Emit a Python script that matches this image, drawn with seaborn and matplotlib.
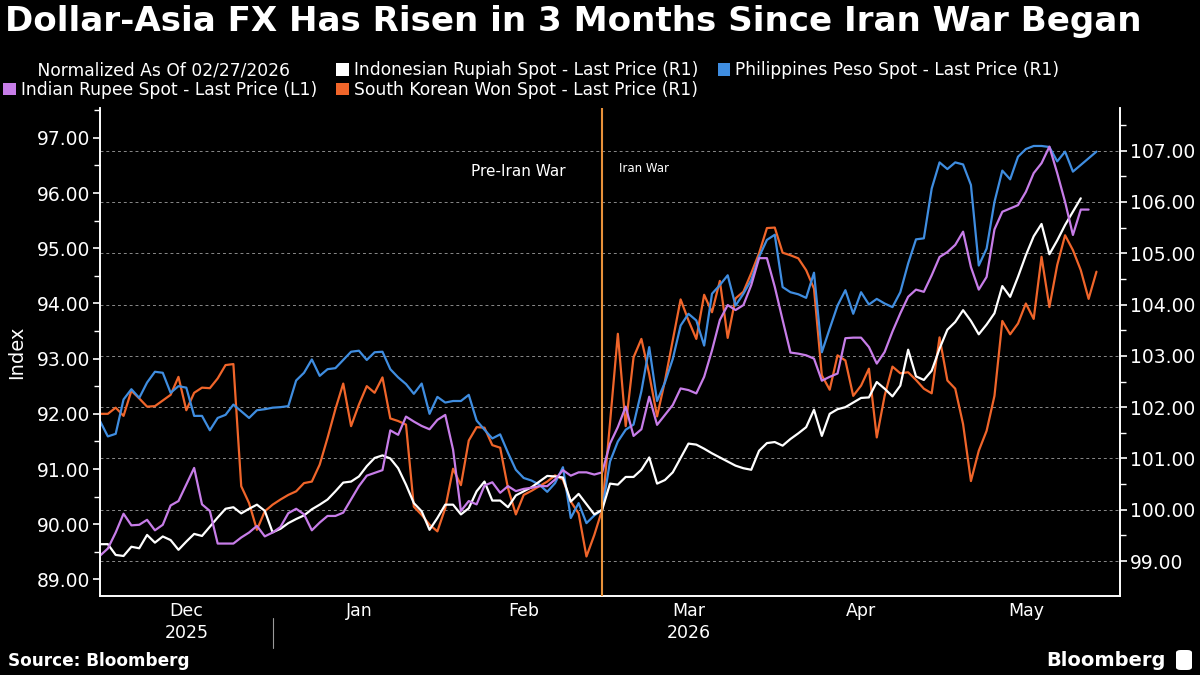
import numpy as np
import pandas as pd
import seaborn as sns
import matplotlib.pyplot as plt
import matplotlib.transforms as mtransforms
from matplotlib.patches import Patch, FancyBboxPatch

# values normalized as of 02/27/2026, one per trading day (Dec 1 2025 - May 29 2026)
india = [89.43, 89.56, 89.85, 90.19, 89.98, 89.99, 90.08, 89.89, 89.99, 90.34, 90.42, 90.72, 91.02, 90.36, 90.24,
         89.65, 89.65, 89.65, 89.76, 89.85, 89.97, 89.78, 89.85, 89.95, 90.20, 90.28, 90.18, 89.89, 90.03, 90.15,
         90.15, 90.21, 90.45,
         90.69, 90.88, 90.93, 90.98, 91.70, 91.62, 91.95, 91.86, 91.78, 91.72, 91.89, 91.98, 91.35, 90.24, 90.42,
         90.36, 90.70, 90.76, 90.57, 90.69, 90.60, 90.64, 90.66, 90.69, 90.69, 90.81, 90.98, 90.88, 90.94, 90.94,
         90.90, 90.94,
         91.46, 91.76, 92.13, 91.60, 91.72, 92.31, 91.80, 91.98, 92.16, 92.46, 92.43, 92.37, 92.67, 93.15, 93.70,
         93.97, 93.88, 93.97, 94.33, 94.82, 94.82, 94.30,
         93.70, 93.11, 93.09, 93.06, 93.00, 92.60, 92.67, 92.73, 93.37, 93.38, 93.38, 93.21, 92.91, 93.12, 93.49,
         93.82, 94.12, 94.25, 94.21, 94.51, 94.84, 94.93,
         95.06, 95.30, 94.66, 94.25, 94.48, 95.34, 95.66, 95.72, 95.78, 96.02, 96.36, 96.54, 96.84, 96.36, 95.84,
         95.24, 95.70, 95.70, np.nan]

indonesia = [99.33, 99.33, 99.12, 99.10, 99.28, 99.25, 99.51, 99.36, 99.48, 99.41, 99.22, 99.38, 99.53, 99.49, 99.67,
             99.85, 100.02, 100.05, 99.93, 100.02, 100.10, 99.98, 99.56, 99.63, 99.74, 99.82, 99.89, 100.01, 100.10,
             100.20, 100.36, 100.53, 100.55,
             100.65, 100.85, 101.01, 101.06, 101.00, 100.81, 100.49, 100.13, 99.97, 99.61, 99.84, 100.10, 100.10,
             99.91, 100.03, 100.36, 100.55, 100.18, 100.18, 100.05, 100.28, 100.36, 100.44, 100.55, 100.66, 100.65,
             100.63, 100.16, 100.31, 100.11, 99.91, 100.00,
             100.51, 100.49, 100.64, 100.64, 100.78, 101.02, 100.51, 100.58, 100.73, 101.01, 101.29, 101.27, 101.19,
             101.10, 101.02, 100.94, 100.86, 100.81, 100.78, 101.15, 101.30, 101.32,
             101.25, 101.38, 101.49, 101.61, 101.95, 101.44, 101.87, 101.96, 102.00, 102.09, 102.18, 102.19, 102.49,
             102.36, 102.21, 102.42, 103.12, 102.60, 102.53, 102.71, 103.14, 103.51,
             103.66, 103.89, 103.68, 103.42, 103.61, 103.83, 104.36, 104.15, 104.54, 104.96, 105.33, 105.57, 104.98,
             105.25, 105.55, 105.81, 106.07, np.nan, np.nan]

philippines = [101.73, 101.43, 101.48, 102.15, 102.35, 102.18, 102.48, 102.69, 102.67, 102.28, 102.41, 102.38, 101.83,
               101.83, 101.55, 101.79, 101.85, 102.05, 101.92, 101.79, 101.94, 101.96, 101.99, 102.00, 102.02, 102.52,
               102.67, 102.93, 102.61, 102.74, 102.76, 102.92, 103.08,
               103.10, 102.92, 103.07, 103.08, 102.74, 102.58, 102.45, 102.26, 102.46, 101.87, 102.20, 102.09, 102.12,
               102.12, 102.24, 101.74, 101.56, 101.39, 101.47, 101.11, 100.78, 100.62, 100.57, 100.49, 100.35, 100.52,
               100.83, 99.84, 100.13, 99.74, 99.89, 100.00,
               100.94, 101.33, 101.56, 101.66, 102.31, 103.17, 102.12, 102.48, 102.94, 103.59, 103.82, 103.69, 103.20,
               104.21, 104.38, 104.57, 103.98, 104.21, 104.48, 104.93, 105.26, 105.36,
               104.34, 104.24, 104.20, 104.13, 104.62, 103.07, 103.53, 103.98, 104.28, 103.82, 104.24, 104.00, 104.11,
               104.02, 103.95, 104.24, 104.80, 105.27, 105.29, 106.26, 106.77, 106.64,
               106.77, 106.73, 106.33, 104.76, 105.09, 106.00, 106.61, 106.44, 106.88, 107.03, 107.09, 107.09, 107.07,
               106.79, 106.98, 106.59, 106.72, 106.85, 106.98]

korea = [101.87, 101.87, 101.99, 101.83, 102.32, 102.17, 102.01, 102.02, 102.13, 102.24, 102.59, 101.94, 102.28, 102.38,
         102.37, 102.56, 102.82, 102.84, 100.46, 100.13, 99.61, 99.97, 100.10, 100.20, 100.29, 100.36, 100.52, 100.55,
         100.88, 101.40, 101.96, 102.46, 101.63,
         102.05, 102.41, 102.28, 102.58, 101.78, 101.73, 101.66, 100.06, 99.90, 99.71, 99.58, 100.03, 100.80, 100.48,
         101.35, 101.61, 101.60, 101.26, 101.21, 100.42, 99.91, 100.29, 100.37, 100.46, 100.55, 100.67, 100.59,
         100.16, 99.93, 99.09, 99.51, 100.00,
         101.69, 103.43, 101.63, 102.97, 103.33, 102.64, 101.82, 102.51, 103.30, 104.10, 103.69, 103.33, 104.19,
         103.85, 104.46, 103.35, 104.12, 104.25, 104.61, 105.00, 105.49, 105.50,
         105.01, 104.96, 104.90, 104.67, 104.31, 102.62, 102.34, 103.01, 102.91, 102.22, 102.42, 102.75, 101.41,
         102.22, 102.79, 102.66, 102.68, 102.53, 102.36, 102.27, 103.36, 102.52,
         102.36, 101.67, 100.56, 101.15, 101.54, 102.22, 103.68, 103.42, 103.63, 104.02, 103.72, 104.93, 103.95,
         104.77, 105.35, 105.06, 104.67, 104.11, 104.64]

left_ticks = [89, 90, 91, 92, 93, 94, 95, 96, 97]
right_ticks = [99, 100, 101, 102, 103, 104, 105, 106, 107]
month_names = ['Dec', 'Jan', 'Feb', 'Mar', 'Apr', 'May']
holidays = ['2026-05-01', '2026-05-25']
war_start = '2026-02-27'

dates = pd.bdate_range('2025-12-01', '2026-05-29').drop(pd.to_datetime(holidays))
df = pd.DataFrame({'pos': np.arange(len(dates)), 'date': dates,
                   'India': india, 'Indonesia': indonesia,
                   'Philippines': philippines, 'Korea': korea})

# month boundaries on the gapless trading-day axis: last trading day of each month
months = df['date'].dt.to_period('M')
bounds = [0] + [int(df.index[months == m].max()) for m in months.unique()[:-1]] + [len(df)]
centers = [(a + b) / 2 for a, b in zip(bounds[:-1], bounds[1:])]
war_pos = int(df.index[df['date'] == war_start][0])

sns.set_theme(style='dark')
plt.rcParams.update({
    'figure.facecolor': 'black', 'axes.facecolor': 'black', 'savefig.facecolor': 'black',
    'text.color': 'white', 'axes.labelcolor': 'white', 'xtick.color': 'white', 'ytick.color': 'white',
    'axes.edgecolor': 'white',
})
plt.rcParams['font.family'] = ['DejaVu Sans']

BLUE = '#3f8de0'
ORANGE = '#f0652a'
PURPLE = '#c77de8'
WHITE = '#ffffff'
EVENT = '#e8913a'

fig = plt.figure(figsize=(12, 6.75), dpi=100)
ax = fig.add_axes([100 / 1200, 1 - 596 / 675, 1020 / 1200, 488 / 675])
ax2 = ax.twinx()
ax.set_zorder(ax2.get_zorder() + 1)
ax.patch.set_visible(False)

sns.lineplot(data=df, x='pos', y='Korea', ax=ax2, color=ORANGE, lw=1.6)
sns.lineplot(data=df, x='pos', y='Philippines', ax=ax2, color=BLUE, lw=1.6)
sns.lineplot(data=df, x='pos', y='Indonesia', ax=ax2, color=WHITE, lw=1.6)
sns.lineplot(data=df, x='pos', y='India', ax=ax, color=PURPLE, lw=1.6)

ax.axvline(war_pos, color=EVENT, lw=1.5, zorder=5)

ax.set_xlim(0, 130)
ax.set_ylim(88.70, 97.54)
ax2.set_ylim(98.32, 107.83)

ax.set_yticks(left_ticks)
ax.set_yticklabels([f'{v:.2f}' for v in left_ticks])
ax.set_yticks([v + 0.5 for v in left_ticks], minor=True)
ax2.set_yticks(right_ticks)
ax2.set_yticklabels([f'{v:.2f}' for v in right_ticks])
ax2.set_yticks([v + 0.5 for v in right_ticks], minor=True)

ax.set_xticks(bounds)
ax.set_xticklabels([''] * len(bounds))
ax.set_xticks(centers, minor=True)
ax.set_xticklabels(month_names, minor=True)
ax.tick_params(axis='x', which='major', length=6, width=1, direction='out')
ax.tick_params(axis='x', which='minor', length=0, pad=4, labelsize=12.5)
for a in (ax, ax2):
    a.tick_params(axis='y', which='both', direction='out', labelsize=13.5, pad=2)
    a.tick_params(axis='y', which='major', length=5, width=1.2)
    a.tick_params(axis='y', which='minor', length=4, width=1)

ax2.grid(True, axis='y', color='#8a8a8a', lw=0.7, ls=(0, (3, 3)))
ax2.grid(True, axis='x', color='#8a8a8a', lw=0.7, ls=(0, (3, 3)))
ax.grid(False)

for a in (ax, ax2):
    a.spines['top'].set_visible(False)
    for s in ('left', 'right', 'bottom'):
        a.spines[s].set_color('white')
        a.spines[s].set_linewidth(1.2)
ax.set_xlabel('')
ax2.set_xlabel('')
ax2.set_ylabel('')
ax.set_ylabel('Index', fontsize=14, labelpad=8)

# year row under the month labels
trans = mtransforms.blended_transform_factory(ax.transData, ax.transAxes)
ax.text(centers[0], -0.076, '2025', transform=trans, ha='center', va='center', fontsize=12.5)
ax.text((bounds[1] + bounds[-1]) / 2, -0.076, '2026', transform=trans, ha='center', va='center', fontsize=12.5)
ax.plot([bounds[1], bounds[1]], [-0.045, -0.107], transform=trans, color='#9a9a9a', lw=0.8, clip_on=False)

ax.text(53.3, 0.869, 'Pre-Iran War', transform=trans, ha='center', va='center', fontsize=11)
ax.text(66.1, 0.875, 'Iran War', transform=trans, ha='left', va='center', fontsize=8.5)

handles = [Patch(facecolor='none', edgecolor='none'),
           Patch(facecolor=PURPLE, edgecolor='none'), Patch(facecolor=WHITE, edgecolor='none'),
           Patch(facecolor=ORANGE, edgecolor='none'), Patch(facecolor=BLUE, edgecolor='none')]
labels = ['   Normalized As Of 02/27/2026',
          'Indian Rupee Spot - Last Price (L1)',
          'Indonesian Rupiah Spot - Last Price (R1)',
          'South Korean Won Spot - Last Price (R1)',
          'Philippines Peso Spot - Last Price (R1)']
fig.legend(handles, labels, ncol=3, loc='upper left', bbox_to_anchor=(0.0, 1 - 58 / 675),
           frameon=False, fontsize=12.3, handlelength=0.75, handleheight=0.75, handletextpad=0.3,
           columnspacing=1.1, labelspacing=0.08, borderaxespad=0, borderpad=0.2, labelcolor='white')

fig.text(5 / 1200, 1 - 22 / 675, 'Dollar-Asia FX Has Risen in 3 Months Since Iran War Began',
         fontsize=24.6, weight='bold', va='center', ha='left')
fig.text(8 / 1200, 1 - 661 / 675, 'Source: Bloomberg', fontsize=12.2, weight='bold', va='center', ha='left')
fig.text(1166 / 1200, 1 - 660 / 675, 'Bloomberg', fontsize=14, weight='bold', va='center', ha='right')
fig.patches.append(FancyBboxPatch((1176 / 1200, 1 - 670 / 675), 16 / 1200, 20 / 675,
                                  boxstyle='round,pad=0,rounding_size=0.004', transform=fig.transFigure,
                                  facecolor='white', edgecolor='none'))

fig.savefig('out.png', dpi=100)
